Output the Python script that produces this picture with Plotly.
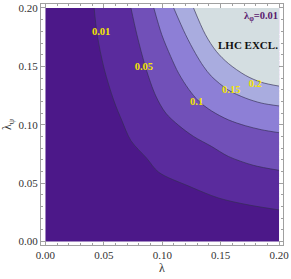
import plotly.graph_objects as go

# Contour curves: (lambda, lambda_psi)
levels = ["0.01", "0.05", "0.1", "0.15", "0.2"]

c001_x = [0.0417, 0.0443, 0.0502, 0.0587, 0.0655, 0.0732, 0.0868, 0.0970, 0.1226, 0.1481, 0.1736, 0.2]
c001_y = [0.2, 0.1771, 0.1483, 0.1203, 0.1034, 0.0864, 0.0712, 0.0593, 0.0475, 0.0373, 0.0314, 0.0271]

c005_x = [0.0732, 0.0783, 0.0860, 0.0945, 0.1030, 0.1140, 0.1268, 0.1421, 0.1566, 0.1779, 0.2]
c005_y = [0.2, 0.1771, 0.1483, 0.1246, 0.1100, 0.0995, 0.0900, 0.0815, 0.0729, 0.0653, 0.0610]

c010_x = [0.0928, 0.0996, 0.1072, 0.1140, 0.1226, 0.1311, 0.1421, 0.1566, 0.1711, 0.1847, 0.2]
c010_y = [0.2, 0.1771, 0.1585, 0.1441, 0.1305, 0.1203, 0.1119, 0.1042, 0.0992, 0.0958, 0.0932]

c015_x = [0.1098, 0.1200, 0.1285, 0.1353, 0.1421, 0.1566, 0.1711, 0.1847, 0.2]
c015_y = [0.2, 0.1771, 0.1610, 0.1500, 0.1415, 0.1297, 0.1229, 0.1186, 0.1161]

c020_x = [0.1268, 0.1370, 0.1464, 0.1566, 0.1711, 0.1847, 0.2]
c020_y = [0.2, 0.1771, 0.1627, 0.1525, 0.1424, 0.1364, 0.1331]

# contour label positions
label_x = [0.0477, 0.0843, 0.1294, 0.1591, 0.1796]
label_y = [0.1788, 0.1492, 0.1195, 0.1297, 0.1347]

# plotted domain
dom_x = [0.0, 0.2, 0.2, 0.0]
dom_y = [0.0, 0.0, 0.2, 0.2]

band_colors = ["#4c1889", "#5a2b9d", "#7150b8", "#8d7fd6", "#a9acdf", "#d4dee1"]
curves = [(c001_x, c001_y), (c005_x, c005_y), (c010_x, c010_y), (c015_x, c015_y), (c020_x, c020_y)]

fig = go.Figure()
fig.add_trace(go.Scatter(x=dom_x, y=dom_y, fill="toself", fillcolor=band_colors[0],
                         mode="none", hoverinfo="skip", showlegend=False))
for i, (cx, cy) in enumerate(curves):
    # corner path along the top / right edges of the domain (start -> corner -> end)
    fig.add_trace(go.Scatter(x=[cx[0], dom_x[2], cx[-1]], y=[cy[0], dom_y[2], cy[-1]],
                             mode="lines", line=dict(width=0, color="rgba(0,0,0,0)"),
                             hoverinfo="skip", showlegend=False))
    # the contour itself, filled to the corner path
    fig.add_trace(go.Scatter(x=cx, y=cy, mode="lines", fill="tonexty", fillcolor=band_colors[i + 1],
                             line=dict(color="rgba(50,45,80,0.8)", width=0.8, shape="spline", smoothing=0.9),
                             hoverinfo="skip", showlegend=False))

fig.add_trace(go.Scatter(x=label_x, y=label_y, mode="text", text=["<b>%s</b>" % t for t in levels],
                         textfont=dict(family="Liberation Serif", size=10.5, color="#f4e600"),
                         hoverinfo="skip", showlegend=False))

fig.add_annotation(x=0.1849, y=0.1925, text="<b>λ<sub>φ</sub>=0.01</b>", showarrow=False,
                   font=dict(family="Liberation Serif", size=10.5, color="#5a1a6e"))
fig.add_annotation(x=0.1730, y=0.1685, text="<b>LHC EXCL.</b>", showarrow=False,
                   font=dict(family="Liberation Serif", size=11, color="#111111"))

axis_common = dict(
    showgrid=False, zeroline=False, showline=True, mirror="allticks",
    linecolor="#a0a0a0", linewidth=1,
    ticks="inside", ticklen=4, tickwidth=0.8, tickcolor="#a0a0a0",
    tickvals=[0.0, 0.05, 0.10, 0.15, 0.20],
    ticktext=["0.00", "0.05", "0.10", "0.15", "0.20"],
    tickfont=dict(family="Liberation Serif", size=11, color="#333333"),
    ticklabeloverflow="allow",
    minor=dict(ticks="inside", ticklen=2, tickwidth=0.7, tickcolor="#a0a0a0", dtick=0.01, tick0=0),
)

fig.update_layout(
    width=291, height=279,
    margin=dict(l=41, r=6, t=2, b=34),
    paper_bgcolor="white", plot_bgcolor="white",
    xaxis=dict(range=[-0.00383, 0.2034],
               title=dict(text="λ", font=dict(family="Liberation Serif", size=12, color="#333333"), standoff=0),
               **axis_common),
    yaxis=dict(range=[-0.00297, 0.2034],
               title=dict(text="λ<sub>ψ</sub>", font=dict(family="Liberation Serif", size=12, color="#333333"), standoff=4),
               **axis_common),
)

fig.write_html("out.html", config={"displayModeBar": False},
               post_script="document.body.style.margin='0';document.body.style.overflow='hidden';")
